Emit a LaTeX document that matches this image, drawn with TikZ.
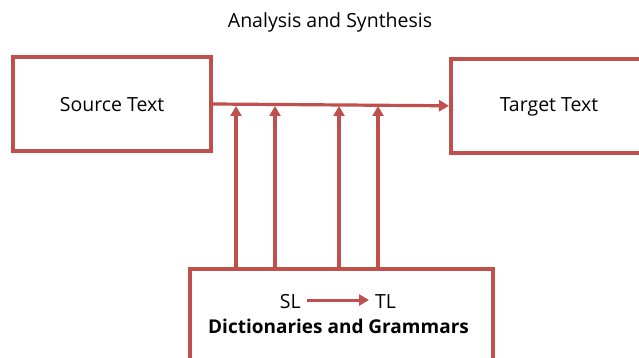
\documentclass[tikz,border=0pt]{standalone}
\usepackage{fontspec}
\setmainfont{Open Sans}
\usetikzlibrary{arrows.meta}
\definecolor{boxred}{RGB}{192,80,77}
\begin{document}
\begin{tikzpicture}[x=1pt,y=-1pt,
  box/.style={draw=boxred,line width=3.6pt,fill=white},
  conn/.style={draw=boxred,line width=3.2pt,-{Triangle[length=10pt,width=11pt]}},
  lbl/.style={font=\fontsize{19.5}{22}\selectfont,text=black,inner sep=0pt,anchor=base}]
\useasboundingbox (0,0) rectangle (639,358);
\fill[white] (0,0) rectangle (639,358);
\node[lbl] (title) at (330,28) {Analysis and Synthesis};
\node[box,minimum width=198pt,minimum height=94pt] (src) at (112,104) {};
\node[lbl] (srct) at (112,111.5) {Source Text};
\node[box,minimum width=220pt,minimum height=94pt,anchor=north west] (tgt) at (449,57) {};
\node[lbl] (tgtt) at (549,111.5) {Target Text};
\node[box,minimum width=303pt,minimum height=120pt,anchor=north west] (dict) at (188,267) {};
\draw[conn] (src.east) -- (tgt.west);
\foreach \x/\n in {236/a,275/b,339/c,378/d}{
  \coordinate (b\n) at (\x,267);
  \coordinate (t\n) at (\x,106);
  \draw[conn] (b\n) -- (t\n);
}
\node[lbl,anchor=base east] (sl) at (301,308) {SL};
\node[lbl,anchor=base west] (tl) at (375,308) {TL};
\path (sl.east) ++(6,0) coordinate (sa);
\path (tl.west) ++(-6,0) coordinate (ta);
\path (sa) ++(0,-1) coordinate (sa);
\draw[conn,line width=3pt] (sa) -- (sa -| ta);
\node[lbl,font=\fontsize{19}{22}\selectfont\bfseries] (dg) at (338.5,333) {Dictionaries and Grammars};
\end{tikzpicture}
\end{document}
